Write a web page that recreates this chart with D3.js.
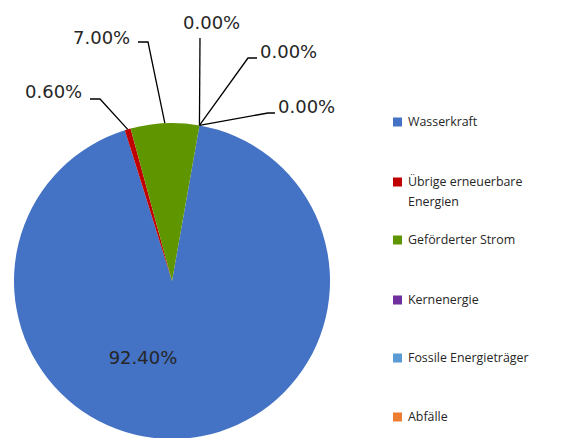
<!DOCTYPE html>
<head>
<meta charset="utf-8">
<script src="https://d3js.org/d3.v7.min.js"></script>
<style>
  body { margin: 0; background: #fff; }
  .lbl { font-family: "DejaVu Sans", Verdana, sans-serif; font-size: 18px; fill: #262626; }
  .leg { font-family: "Open Sans", sans-serif; font-size: 12.4px; fill: #262626; }
</style>
</head>
<body>
<svg width="563" height="438"></svg>
<script>
// chart data
var categories = ["Wasserkraft", "Übrige erneuerbare Energien", "Geförderter Strom",
                  "Kernenergie", "Fossile Energieträger", "Abfälle"];
var shares = [92.4, 0.6, 7.0, 0.0, 0.0, 0.0];
var labels = ["92.40%", "0.60%", "7.00%", "0.00%", "0.00%", "0.00%"];
var colors = ["#4472c4", "#c00000", "#5f9600", "#7030a0", "#5b9bd5", "#ed7d31"];

// hand placed label boxes (like the moved labels in the original)
var labelLayout = [
  {x: 143, y: 358, anchor: "middle", leader: null},
  {x: 25,  y: 92,  anchor: "start", leader: [[90, 99], [100, 99]]},
  {x: 73,  y: 38,  anchor: "start", leader: [[138, 42], [148, 42]]},
  {x: 183, y: 23,  anchor: "start", leader: [[200, 38], [200, 38]]},
  {x: 260, y: 52,  anchor: "start", leader: [[257, 58], [248, 58]]},
  {x: 278, y: 107, anchor: "start", leader: [[275, 113], [268, 113]]}
];

var svg = d3.select("svg"),
    cx = 172, cy = 281, r = 158;

var start = 10 * Math.PI / 180;
var pie = d3.pie().sort(null).value(function(d) { return d; })
    .startAngle(start).endAngle(start + 2 * Math.PI);
var arcs = pie(shares);
var arc = d3.arc().innerRadius(0).outerRadius(r);

var g = svg.append("g").attr("transform", "translate(" + cx + "," + cy + ")");

g.selectAll("path.slice")
  .data(arcs)
  .enter().append("path")
  .attr("class", "slice")
  .attr("d", arc)
  .attr("fill", function(d, i) { return colors[i]; });

// leader lines
svg.append("g").selectAll("polyline")
  .data(arcs.filter(function(d, i) { return labelLayout[i].leader; }))
  .enter().append("polyline")
  .attr("fill", "none")
  .attr("stroke", "#000")
  .attr("stroke-width", 1.3)
  .attr("points", function(d) {
    var L = labelLayout[d.index].leader;
    var a = (d.startAngle + d.endAngle) / 2;
    var p = [cx + r * Math.sin(a), cy - r * Math.cos(a)];
    return [L[0], L[1], p].map(function(q) { return q.join(","); }).join(" ");
  });

svg.append("g").selectAll("text")
  .data(labels)
  .enter().append("text")
  .attr("class", "lbl")
  .attr("x", function(d, i) { return labelLayout[i].x; })
  .attr("y", function(d, i) { return labelLayout[i].y; })
  .attr("dy", "0.36em")
  .attr("text-anchor", function(d, i) { return labelLayout[i].anchor; })
  .text(function(d) { return d; });

// legend
var legendY = [122, 182, 240, 300, 358, 417];
var leg = svg.append("g").selectAll("g")
  .data(categories)
  .enter().append("g")
  .attr("transform", function(d, i) { return "translate(393," + legendY[i] + ")"; });

leg.append("rect")
  .attr("x", 0).attr("y", -4.5)
  .attr("width", 9).attr("height", 9)
  .attr("fill", function(d, i) { return colors[i]; });

leg.append("text")
  .attr("class", "leg")
  .attr("x", 15)
  .attr("dy", "0.35em")
  .each(function(d) {
    var t = d3.select(this);
    if (d === "Übrige erneuerbare Energien") {
      t.append("tspan").attr("x", 15).text("Übrige erneuerbare");
      t.append("tspan").attr("x", 15).attr("dy", 20).text("Energien");
    } else {
      t.text(d);
    }
  });
</script>
</body>
